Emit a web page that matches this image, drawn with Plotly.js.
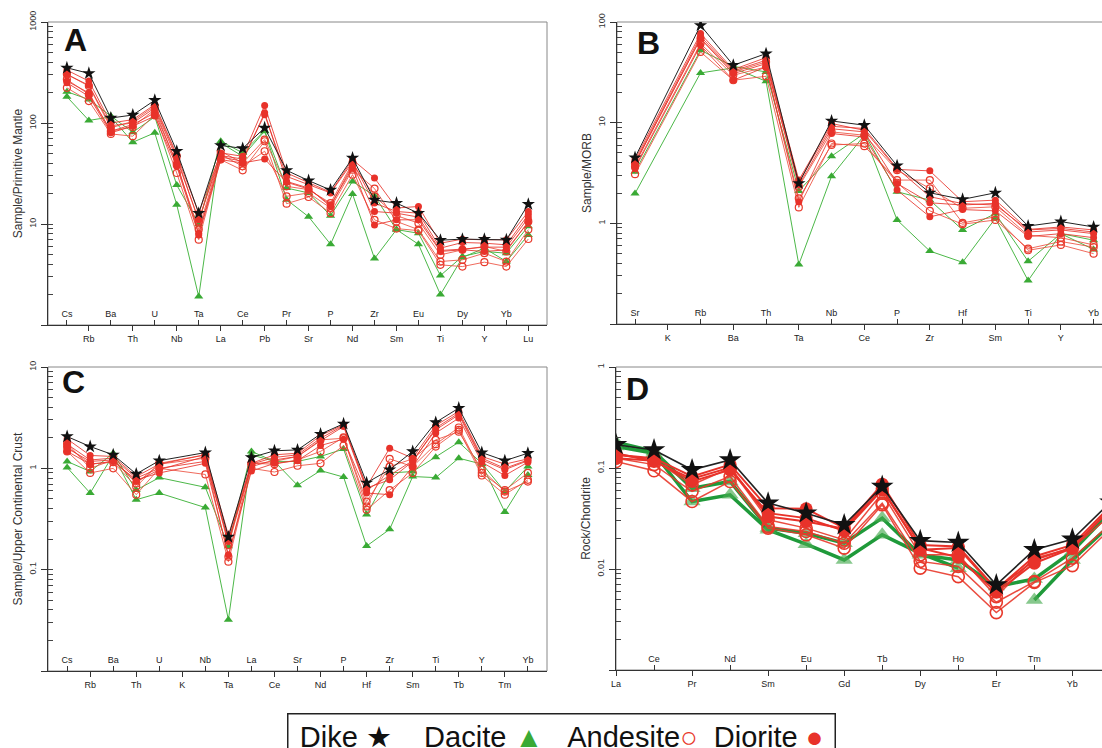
<!DOCTYPE html>
<html><head><meta charset="utf-8">
<script src="https://cdn.plot.ly/plotly-3.0.1.min.js"></script>
<style>html,body{margin:0;padding:0;overflow:hidden;background:#fff;width:1102px;height:748px}#chart{width:1140px;height:748px}</style>
</head><body><div id="chart"></div>
<script>
// ---------- categories ----------
const elemA = ["Cs","Rb","Ba","Th","U","Nb","Ta","La","Ce","Pb","Pr","Sr","P","Nd","Zr","Sm","Eu","Ti","Dy","Y","Yb","Lu"];
const elemB = ["Sr","K","Rb","Ba","Th","Ta","Nb","Ce","P","Zr","Hf","Sm","Ti","Y","Yb"];
const elemC = ["Cs","Rb","Ba","Th","U","K","Nb","Ta","La","Ce","Sr","Nd","P","Hf","Zr","Sm","Ti","Tb","Y","Tm","Yb"];
const elemD = ["La","Ce","Pr","Nd","Sm","Eu","Gd","Tb","Dy","Ho","Er","Tm","Yb","Lu"];

// ---------- panel A: Sample / Primitive Mantle ----------
const A_dike      = [352,310,112,120,168,52.5,12.8,60,56,89.5,34,26.9,21.7,45,17.3,16.1,12.8,6.92,7.08,7.08,6.97,15.7];
const A_dacite1   = [204,171,117,81,115,24.3,10,66,50.6,84,22.7,20.3,12.1,26.4,19,8.8,8.1,3.09,4.77,5.35,5.14,9.5];
const A_dacite2   = [182,106,115,64.5,80,15.5,1.91,63.5,46.8,83,17.4,11.8,6.3,19.8,4.55,8.8,6.3,2.0,4.66,5.77,4.25,7.8];
const A_andesite1 = [223,165,78,74,121,32,7.0,43.4,34,66,15.9,18.5,12.8,30.8,11,9,8.6,3.94,3.79,4.19,3.79,7.1];
const A_andesite2 = [270,192,83,91.5,136,38.7,8.8,48.7,37.3,52.5,18.8,20.3,14.4,34.5,22.4,10.6,8.8,4.25,4.42,5.14,4.25,8.8];
const A_andesite3 = [303,232,89.5,104,147,46.8,10.6,52.5,40.2,68.5,23.6,21.9,16.1,40.2,18.8,12.1,10.2,4.95,5.55,6.0,5.35,10.6];
const A_diorite1  = [334,260,100,108,152,48.7,12.8,50.6,46.8,149,32,25.5,20.6,43.4,28.5,14.4,14.9,6.46,7.08,6.97,6.97,13.3];
const A_diorite2  = [303,236,94,100,141,44,11,47.5,44,121,29.6,24.5,20.3,41.1,16.1,13.3,12.8,5.77,6.56,6.46,6.22,12.4];
const A_diorite3  = [260,199,83,96.6,126,40.2,8.1,46.1,41.8,126,26.4,22.7,14.9,38.7,13.3,12.8,11.7,5.47,5.64,5.9,5.9,11.5];
const A_diorite4  = [250,184,80,93,117,37.3,7.8,43.4,40.2,44,25.9,22.2,15.5,35.9,9.8,11,11,5.35,5.55,5.35,5.55,10.4];

// ---------- panel B: Sample / MORB ----------
const B_dike      = [4.5,null,92.7,37.2,48.5,2.49,10.4,9.44,3.73,2.01,1.73,2.01,0.94,1.04,0.92];
const B_dacite1   = [3.25,null,52.4,36.3,31.9,2.1,4.65,7.8,2.06,1.7,0.86,1.25,0.42,0.79,0.68];
const B_dacite2   = [1.98,null,31.2,35,25.8,0.39,2.94,7.5,1.08,0.53,0.41,1.12,0.27,0.79,0.55];
const B_andesite1 = [3.08,null,50.4,26.4,28.9,1.44,6.21,5.84,2.69,2.69,1.01,1.16,0.54,0.61,0.5];
const B_andesite2 = [3.64,null,61,29.6,35.8,1.77,6.0,6.2,2.53,1.33,0.98,1.08,0.56,0.66,0.58];
const B_andesite3 = [3.93,null,68.4,31.9,40.1,2.31,8.1,7.5,3.37,2.22,1.41,1.46,0.76,0.72,0.61];
const B_diorite1  = [4.31,null,76.7,33.7,44.3,2.69,9.8,8.4,3.43,3.32,1.64,1.7,0.87,0.92,0.86];
const B_diorite2  = [3.93,null,68.4,30.7,38.6,2.4,8.7,8.1,2.49,1.6,1.52,1.58,0.82,0.86,0.79];
const B_diorite3  = [3.51,null,58.7,26.4,35.8,1.64,7.8,7.2,2.14,1.16,1.37,1.33,0.74,0.79,0.72];
const B_diorite4  = [4.08,null,72.1,32.7,41.7,2.59,9.2,8.75,3.51,1.84,1.57,1.52,0.86,0.89,0.82];

// ---------- panel C: Sample / Upper Continental Crust ----------
const C_dike      = [2.06,1.64,1.36,0.88,1.19,null,1.43,0.21,1.28,1.49,1.52,2.18,2.75,0.72,0.97,1.47,2.84,3.93,1.43,1.19,1.41];
const C_dacite1   = [1.17,0.93,1.41,0.61,0.81,null,0.65,0.17,1.47,1.17,1.17,1.31,1.55,0.35,0.9,0.93,1.29,1.81,1.12,0.59,1.04];
const C_dacite2   = [1.02,0.57,1.36,0.49,0.57,null,0.41,0.032,1.36,1.17,0.68,0.95,0.82,0.171,0.25,0.83,0.81,1.26,1.1,0.37,0.86];
const C_andesite1 = [1.47,0.9,1.0,0.55,1.0,null,0.87,0.12,1.0,0.92,1.06,1.12,1.68,0.39,0.61,0.9,1.64,2.4,0.85,0.55,0.77];
const C_andesite2 = [1.77,1.0,1.21,0.71,1.1,null,1.26,0.134,1.12,1.1,1.21,1.47,2.02,0.42,1.24,1.04,1.73,2.53,0.9,0.61,0.9];
const C_andesite3 = [1.64,1.1,1.15,0.66,1.12,null,1.36,0.175,1.1,1.17,1.31,1.91,1.98,0.47,1.04,1.24,1.91,2.3,0.97,0.59,0.74];
const C_diorite1  = [1.95,1.34,1.31,0.83,1.1,null,1.36,0.22,1.12,1.36,1.41,2.11,2.69,0.66,1.58,1.26,2.65,3.65,1.31,1.1,1.24];
const C_diorite2  = [1.73,1.21,1.26,0.8,1.0,null,1.17,0.196,1.04,1.21,1.31,1.87,2.59,0.61,0.86,1.19,2.4,3.38,1.21,0.97,1.19];
const C_diorite3  = [1.47,1.1,1.17,0.77,0.9,null,1.12,0.14,0.94,1.12,1.19,1.68,1.94,0.57,0.55,1.04,2.23,3.13,1.15,0.85,1.15];
const C_diorite4  = [1.58,1.17,1.21,0.74,0.97,null,1.31,0.19,1.1,1.28,1.36,1.98,2.65,0.64,0.77,1.17,2.5,3.5,1.26,1.0,1.21];

// ---------- panel D: Rock / Chondrite ----------
const D_dike      = [0.17,0.151,0.096,0.12,0.0449,0.0357,0.0274,0.0656,0.0191,0.0183,0.00696,0.0155,0.0197,0.046];
const D_dacite1   = [0.18,0.146,0.063,0.0736,0.0254,0.0226,0.018,0.0319,0.0138,0.0123,0.0067,0.00798,0.0149,0.037];
const D_dacite2   = [0.163,0.14,0.0466,0.0542,0.0244,0.0176,0.0123,0.0218,0.0143,0.0102,null,0.00494,0.0123,0.0274];
const D_andesite1 = [0.116,0.0938,0.0466,0.0736,0.0254,0.0218,0.0161,0.0432,0.0102,0.0084,0.0037,0.00734,0.0108,0.025];
const D_andesite2 = [0.125,0.108,0.0585,0.0824,0.0264,0.0235,0.018,0.0449,0.0119,0.0106,0.00469,0.0075,0.0128,0.028];
const D_andesite3 = [0.135,0.12,0.0682,0.0997,0.0307,0.0254,0.0194,0.0563,0.0138,0.0138,0.00533,0.0128,0.0161,0.034];
const D_diorite1  = [0.135,0.125,0.0824,0.108,0.04,0.0394,0.0254,0.0692,0.0173,0.0167,0.0063,0.0133,0.0173,0.042];
const D_diorite2  = [0.125,0.118,0.0736,0.096,0.0357,0.0319,0.0239,0.0608,0.0161,0.0131,0.00589,0.0114,0.0161,0.039];
const D_diorite3  = [0.14,0.116,0.0782,0.101,0.0331,0.0295,0.025,0.063,0.0155,0.0161,0.0062,0.0123,0.0163,0.04];

const panelLetters = ["A","B","C","D"];
const yTitles = ["Sample/Primitive Mantle","Sample/MORB","Sample/Upper Continental Crust","Rock/Chondrite"];
const legendNames = ["Dike","Dacite","Andesite","Diorite"];
const legendGlyphs = ["★","▲","○","●"];

// ---------- styling / building ----------
const W = 1140, H = 748;
const FONT = "Liberation Sans, Arial, sans-serif";
const COL = {dike:"#111111", dacite:"#3aaa35", andesite:"#e8392b", diorite:"#e8322a"};

function trace(vals, kind, xa, ya, big){
  const x = vals.map((_, i) => i);
  const t = {x, y: vals, xaxis: xa, yaxis: ya, type: "scatter", mode: "lines+markers",
             showlegend: false, hoverinfo: "skip", connectgaps: !big, cliponaxis: true};
  if (kind === "dike"){
    t.line = {color: "#222", width: big ? 1.6 : 1};
    t.marker = {symbol: "star", size: big ? 17 : 10, color: "#111"};
  } else if (kind === "dacite"){
    t.line = {color: big ? "#1f9a3a" : "#4cb848", width: big ? 3.5 : 1};
    t.marker = {symbol: "triangle-up", size: big ? 15 : 8, color: big ? "rgba(70,170,80,0.65)" : "#3aaa35"};
  } else if (kind === "andesite"){
    t.line = {color: big ? "rgba(232,57,43,0.9)" : "rgba(236,80,64,0.85)", width: big ? 1.5 : 1};
    t.marker = {symbol: "circle-open", size: big ? 12 : 7, color: COL.andesite, line: {width: big ? 1.6 : 1.2}};
  } else {
    t.line = {color: big ? "#e8322a" : "rgba(232,50,42,0.85)", width: big ? 2 : 1};
    t.marker = {symbol: "circle", size: big ? 13 : 7, color: COL.diorite};
  }
  return t;
}

function panelTraces(sets, xa, ya, big){
  const out = [];
  sets.dacite.forEach(v => out.push(trace(v, "dacite", xa, ya, big)));
  sets.andesite.forEach(v => out.push(trace(v, "andesite", xa, ya, big)));
  sets.diorite.forEach(v => out.push(trace(v, "diorite", xa, ya, big)));
  sets.dike.forEach(v => out.push(trace(v, "dike", xa, ya, big)));
  return out;
}

let data = [];
data = data.concat(panelTraces({dike:[A_dike], dacite:[A_dacite1,A_dacite2], andesite:[A_andesite1,A_andesite2,A_andesite3], diorite:[A_diorite1,A_diorite2,A_diorite3,A_diorite4]}, "x", "y", false));
data = data.concat(panelTraces({dike:[B_dike], dacite:[B_dacite1,B_dacite2], andesite:[B_andesite1,B_andesite2,B_andesite3], diorite:[B_diorite1,B_diorite2,B_diorite3,B_diorite4]}, "x3", "y2", false));
data = data.concat(panelTraces({dike:[C_dike], dacite:[C_dacite1,C_dacite2], andesite:[C_andesite1,C_andesite2,C_andesite3], diorite:[C_diorite1,C_diorite2,C_diorite3,C_diorite4]}, "x5", "y3", false));
data = data.concat(panelTraces({dike:[D_dike], dacite:[D_dacite1,D_dacite2], andesite:[D_andesite1,D_andesite2,D_andesite3], diorite:[D_diorite1,D_diorite2,D_diorite3]}, "x7", "y4", true));
// invisible anchors for the overlay label axes and major-tick axes
["x2","x4","x6","x8"].forEach((xa, i) => data.push({x:[0], y:[null], xaxis: xa, yaxis: ["y","y2","y3","y4"][i], type:"scatter", mode:"markers", showlegend:false, hoverinfo:"skip"}));
["y5","y6","y7","y8"].forEach((ya, i) => data.push({x:[0], y:[null], xaxis: ["x","x3","x5","x7"][i], yaxis: ya, type:"scatter", mode:"markers", showlegend:false, hoverinfo:"skip"}));

const panels = [
  {elem: elemA, xd:[48,547], yd:[22,325], xr:[-0.86,21.85], yr:[0,3], outParity:1, xm:"xaxis", xo:"xaxis2", ym:"yaxis", yo:"yaxis5", yid:"y", xid:"x", letter:[75,40]},
  {elem: elemB, xd:[617,1110], yd:[22,324], xr:[-0.55,14.5], yr:[-1,2], outParity:1, xm:"xaxis3", xo:"xaxis4", ym:"yaxis2", yo:"yaxis6", yid:"y2", xid:"x3", letter:[648,43]},
  {elem: elemC, xd:[48,547], yd:[367,671], xr:[-0.83,20.83], yr:[-2,1], outParity:1, xm:"xaxis5", xo:"xaxis6", ym:"yaxis3", yo:"yaxis7", yid:"y3", xid:"x5", letter:[73,382]},
  {elem: elemD, xd:[616,1118], yd:[367,670], xr:[0,13.2], yr:[-3,0], outParity:0, xm:"xaxis7", xo:"xaxis8", ym:"yaxis4", yo:"yaxis8", yid:"y4", xid:"x7", letter:[637,389]}
];

const layout = {
  width: W, height: H, margin: {l:0, r:0, t:0, b:0},
  paper_bgcolor: "#fff", plot_bgcolor: "rgba(0,0,0,0)",
  font: {family: FONT, color: "#222"},
  showlegend: false, shapes: [], annotations: []
};

function fmt(v){ return v >= 1 ? String(Math.round(v)) : String(+v.toPrecision(1)); }
function logTicks(yr){
  const vals = [], text = [];
  for (let e = yr[0]; e <= yr[1]; e++){
    const d = Math.pow(10, e);
    vals.push(d); text.push(fmt(d));
    if (e < yr[1]) for (let m = 2; m <= 9; m++){ vals.push(m * d); text.push(""); }
  }
  return {vals, text};
}
function decades(yr){ const v = []; for (let e = yr[0]; e <= yr[1]; e++) v.push(Math.pow(10, e)); return v; }

panels.forEach((p, k) => {
  const idx = p.elem.map((_, i) => i);
  const outIdx = idx.filter(i => i % 2 === p.outParity);
  const inIdx = idx.filter(i => i % 2 !== p.outParity);
  const lt = logTicks(p.yr);
  layout[p.xm] = {
    domain: [p.xd[0]/W, p.xd[1]/W], range: p.xr, autorange: false, anchor: p.yid,
    tickmode: "array", tickvals: outIdx, ticktext: outIdx.map(i => p.elem[i]),
    ticks: "outside", ticklen: 5, tickcolor: "#333", tickwidth: 1,
    showline: true, linecolor: "#333", linewidth: 1.3,
    showgrid: false, zeroline: false, tickfont: {size: 9, color: "#222", family: FONT}
  };
  layout[p.xo] = {
    overlaying: p.xid, anchor: p.yid, range: p.xr, autorange: false,
    tickmode: "array", tickvals: inIdx, ticktext: inIdx.map(i => p.elem[i]),
    ticks: "inside", ticklen: 5, tickcolor: "#333", tickwidth: 1, ticklabelposition: "inside",
    showline: false, showgrid: false, zeroline: false, tickfont: {size: 9, color: "#222", family: FONT}
  };
  // main y axis: labelled decades plus 2..9 ticks pointing into the plot
  layout[p.ym] = {
    type: "log", domain: [1 - p.yd[1]/H, 1 - p.yd[0]/H], range: p.yr, autorange: false, anchor: p.xid,
    tickmode: "array", tickvals: lt.vals, ticktext: lt.text, tickangle: -90, ticklabelstandoff: 7,
    ticks: "inside", ticklen: 5, tickcolor: "#444", tickwidth: 1,
    showline: true, linecolor: "#333", linewidth: 1.3, showgrid: false, zeroline: false,
    tickfont: {size: 9, color: "#333", family: FONT},
    title: {text: yTitles[k], font: {size: 12, color: "#333", family: FONT}, standoff: 3}
  };
  // short outside ticks at the decades
  layout[p.yo] = {
    type: "log", overlaying: p.yid, anchor: p.xid, side: "left", range: p.yr, autorange: false,
    tickmode: "array", tickvals: decades(p.yr), ticks: "outside", ticklen: 6, tickcolor: "#333", tickwidth: 1,
    showticklabels: false, showline: false, showgrid: false, zeroline: false
  };
  layout.shapes.push({type: "rect", xref: p.xid + " domain", yref: p.yid + " domain",
    x0: 0, x1: 1, y0: 0, y1: 1, line: {color: "#888", width: 1}, layer: "below"});
  layout.annotations.push({text: "<b>" + panelLetters[k] + "</b>", xref: "paper", yref: "paper",
    x: p.letter[0]/W, y: 1 - p.letter[1]/H, xanchor: "center", yanchor: "middle", showarrow: false,
    font: {size: 32, color: "#111", family: FONT}});
});

// legend box (text followed by its symbol, as in the original figure)
const glyphColors = ["#111", "#3aaa35", "#e8392b", "#e8322a"];
const NB = "\u00A0";
const before = [NB, NB, "", NB];
const gaps = [NB+NB+NB+NB, NB+NB+NB, NB+NB, ""];
let legendText = "";
legendNames.forEach((n, i) => {
  const g = i === 2 ? "<b>" + legendGlyphs[i] + "</b>" : legendGlyphs[i];
  legendText += n + before[i] + "<span style='color:" + glyphColors[i] + "'>" + g + "</span>" + gaps[i];
});
layout.annotations.push({text: legendText, xref: "paper", yref: "paper",
  x: 561/W, y: 1 - 713/H, xanchor: "center", yanchor: "top", showarrow: false,
  width: 546, height: 44, align: "center", valign: "middle",
  bordercolor: "#222", borderwidth: 1.5, borderpad: 0, bgcolor: "#fff",
  font: {size: 29, color: "#111", family: FONT}});

Plotly.newPlot("chart", data, layout, {displayModeBar: false, staticPlot: true});
</script>
</body></html>
